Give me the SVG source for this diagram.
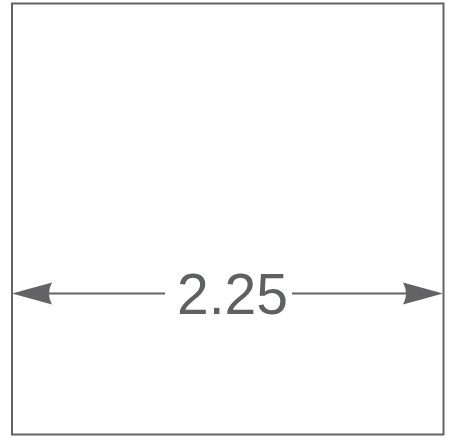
<svg xmlns="http://www.w3.org/2000/svg" width="451" height="441" viewBox="0 0 451 441">
<style>
.edge{stroke:#636366;stroke-width:2;fill:none}
.head{fill:#636366;stroke:none}
.lbl{font-family:"Liberation Sans",Arial,sans-serif;font-size:57px;fill:#5f6064}
</style>
<rect width="451" height="441" fill="#ffffff"/>
<g id="square">
<rect x="12" y="3.5" width="431.5" height="431" class="edge" stroke-width="2.2"/>
</g>
<g id="connectors">
<line x1="40" y1="293.5" x2="165" y2="293.5" class="edge"/>
<line x1="292" y1="293.5" x2="415" y2="293.5" class="edge"/>
<path class="head" d="M12,293.5 L52,282.5 Q46,293.5 52,304.5 Z"/>
<path class="head" d="M443,293.5 L403,282.5 Q409,293.5 403,304.5 Z"/>
</g>
<g id="label">
<text x="232.5" y="314" text-anchor="middle" class="lbl">2.25</text>
</g>
</svg>
